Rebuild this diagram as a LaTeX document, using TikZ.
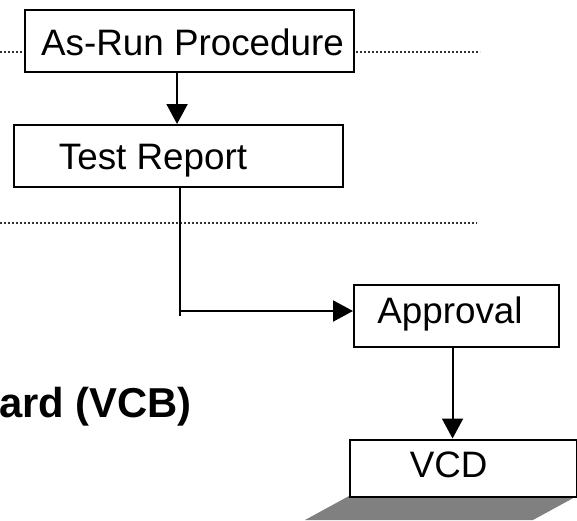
\documentclass[tikz,border=0pt]{standalone}
\usepackage{fontspec}
\setmainfont{Liberation Sans}
\usetikzlibrary{arrows.meta}
\begin{document}
\begin{tikzpicture}[x=1pt,y=-1pt,
  box/.style={draw=black, line width=2.1pt, fill=white, inner sep=0pt, anchor=north west},
  boxtext/.style={inner sep=0pt, anchor=base, font=\fontsize{36.8}{44}\selectfont},
  conn/.style={line width=2pt},
  arr/.style={conn, -{Triangle[length=20pt,width=21pt]}},
  sepline/.style={line width=1.2pt, black!80, dash pattern=on 1.6pt off 2.4pt}]
\useasboundingbox (0,0) rectangle (577,520);

% dotted separators
\coordinate (s1a) at (0,52);   \coordinate (s1b) at (480,52);
\coordinate (s2a) at (0,223);  \coordinate (s2b) at (477,223);
\draw[sepline] (s1a) -- (s1b);
\draw[sepline] (s2a) -- (s2b);

% shadow under the VCD box
\fill[gray] (349,496) -- (577,496) -- (533,520) -- (305,520) -- cycle;

% boxes
\node[box, minimum width=329pt, minimum height=62pt] (asrun) at (24,9) {};
\node[box, minimum width=329pt, minimum height=62pt] (test) at (13,124) {};
\node[box, minimum width=205pt, minimum height=62pt] (appr) at (353,284) {};
\node[box, minimum width=227pt, minimum height=57pt] (vcd) at (349,438.5) {};

% box labels
\node[boxtext] (asrunT) at (192.5,55.7) {As-Run Procedure};
\node[boxtext] (testT) at (153,169.3) {Test Report};
\node[boxtext] (apprT) at (450,323) {Approval};
\node[boxtext] (vcdT) at (448.7,477.7) {VCD};

% board title, running off the left edge
\node[inner sep=0pt, anchor=base east, font=\fontsize{41.8}{50}\selectfont\bfseries] (vcb) at (192,417) {ard (VCB)};

% connectors
\draw[arr] ([xshift=-12.5pt]asrun.south) -- ([xshift=-12.5pt]asrun.south |- test.north);
\coordinate (drop) at ([xshift=1.5pt]test.south);
\coordinate (bend) at (drop |- 0,311);
\coordinate (stub) at (drop |- 0,316);
\draw[conn] (drop) -- (stub);
\draw[arr] (bend) -- (bend -| appr.west);
\draw[arr] ([xshift=-4pt]appr.south) -- ([xshift=-4pt]appr.south |- vcd.north);
\end{tikzpicture}
\end{document}
